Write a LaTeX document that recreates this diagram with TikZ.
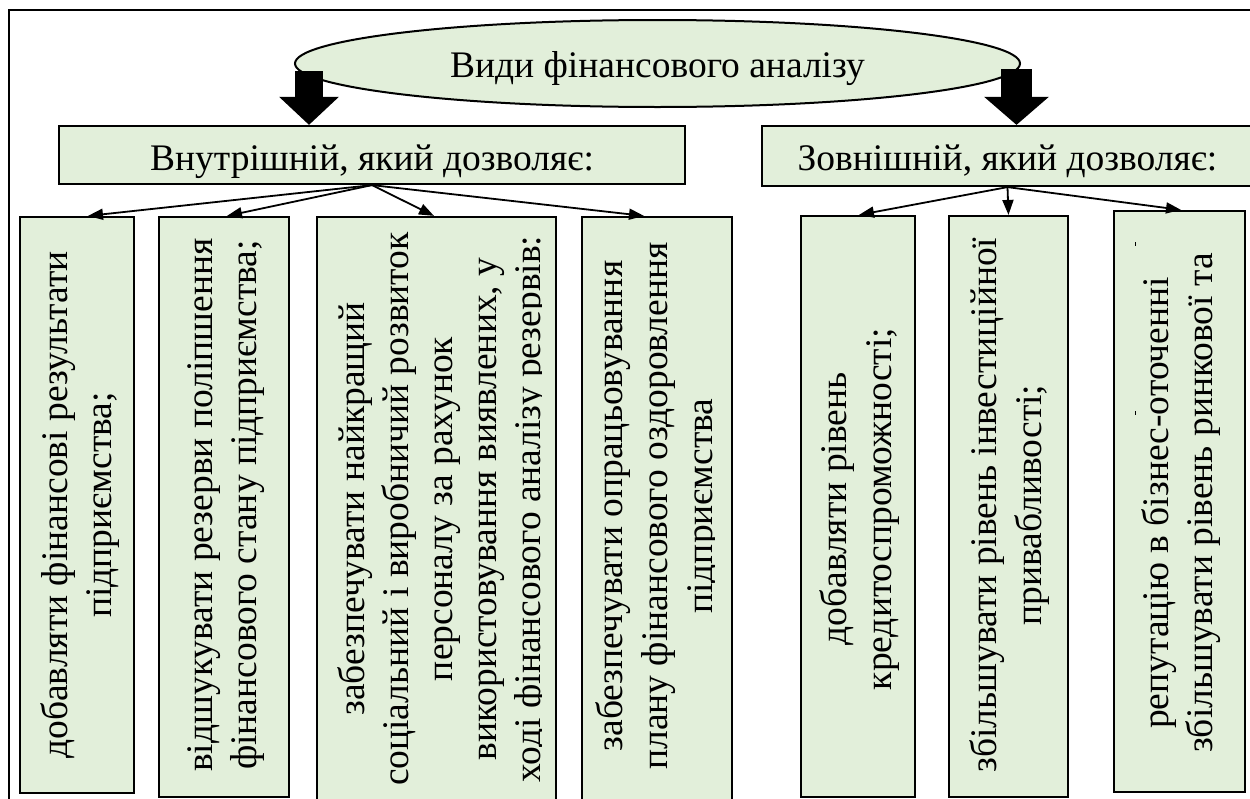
\documentclass[tikz,border=0pt]{standalone}
\usepackage{fontspec}
\setmainfont{Liberation Serif}
\usetikzlibrary{shapes.geometric,arrows.meta}
\definecolor{boxgreen}{RGB}{226,239,218}
\begin{document}
\begin{tikzpicture}[x=1pt,y=-1pt,
  txt/.style={font=\fontsize{37.5}{44.5}\selectfont},
  vbox/.style={draw=black, line width=2.2pt, fill=boxgreen, inner sep=0pt},
  hbox/.style={draw=black, line width=2.2pt, fill=boxgreen, inner sep=0pt, txt, text depth=0pt},
  vtext/.style={rotate=90, align=center, inner sep=0pt, txt},
  vline/.style={rotate=90, anchor=base, inner sep=0pt, txt},
  conn/.style={line width=1.8pt, -{Triangle[length=15pt,width=11pt]}},
  blockarrL/.style={line width=28pt, -{Triangle[length=28pt,width=58pt]}},
  blockarrR/.style={line width=31pt, -{Triangle[length=28pt,width=63pt]}}]
\clip (0,0) rectangle (1250,798);
% outer frame
\draw[line width=1.2pt] (9,900) -- (9,10) -- (1300,10);

% title ellipse
\node[ellipse, draw=black, line width=2pt, fill=boxgreen, minimum width=725pt, minimum height=87pt,
      inner sep=0pt, txt, text height=27pt, text depth=0pt] (title) at (657.5,63.5) {Види фінансового аналізу};

% header boxes
\node[hbox, minimum width=626pt, minimum height=58pt, text height=30pt] (hin) at (372,155) {Внутрішній, який дозволяє:};
\node[hbox, minimum width=491pt, minimum height=60pt, text height=28pt] (hout) at (1007.5,156) {Зовнішній, який дозволяє:};

% block arrows
\coordinate (la) at (309,71);
\coordinate (ra) at (1016.5,69);
\draw[blockarrL] (la) -- (la |- hin.north);
\draw[blockarrR] (ra) -- (ra |- hout.north);

% vertical boxes
\node[vbox, minimum width=114pt, minimum height=576pt] (b1) at (77,505) {};
\node[vbox, minimum width=130pt, minimum height=580pt] (b2) at (224,507) {};
\node[vbox, minimum width=239pt, minimum height=600pt] (b3) at (436.5,517) {};
\node[vbox, minimum width=150pt, minimum height=600pt] (b4) at (657,517) {};
\node[vbox, minimum width=114pt, minimum height=581pt] (b5) at (858,506.5) {};
\node[vbox, minimum width=119pt, minimum height=581pt] (b6) at (1008.5,506.5) {};
\node[vbox, minimum width=131pt, minimum height=581pt] (b7) at (1179.5,501.5) {};

% texts
\node[vtext] (t1) at (80,505) {добавляти фінансові результати\\підприємства;};
\node[vtext] (t2) at (226,505) {відшукувати резерви поліпшення\\фінансового стану підприємства;};
\begin{scope}
\clip (317,217) rectangle (541.5,798);
\node[vline] (t3a) at (364,509) {забезпечувати найкращий};
\node[vline] (t3b) at (408,509) {соціальний і виробничий розвиток};
\node[vline] (t3c) at (452,509) {персоналу за рахунок};
\node[vline] (t3d) at (496,509) {використовування виявлених, у};
\node[vline] (t3e) at (540,509) {ході фінансового аналізу резервів:};
\end{scope}
\begin{scope}
\clip (582,217) rectangle (714,798);
\node[vline] (t4a) at (622,506) {забезпечувати опрацьовування};
\node[vline] (t4b) at (667,506) {плану фінансового оздоровлення};
\node[vline] (t4c) at (712.5,506) {підприємства};
\end{scope}
\node[vtext] (t5) at (859.5,509) {добавляти рівень\\кредитоспроможності;};
\node[vtext] (t6) at (1009.5,505) {збільшувати рівень інвестиційної\\привабливості;};
\node[vtext] (t7) at (1181,503) {репутацію в бізнес-оточенні\\збільшувати рівень ринкової та};
\draw[line width=0.8pt] (1135,242) -- (1135,246);
\draw[line width=0.8pt] (1135,411) -- (1135,415);

% connectors
\draw[conn] (hin.south) -- ([xshift=11pt]b1.north);
\draw[conn] (hin.south) -- ([xshift=3pt]b2.north);
\draw[conn] (hin.south) -- ([xshift=-2.5pt]b3.north);
\draw[conn] (hin.south) -- ([xshift=-13pt]b4.north);
\draw[conn] (hout.south) -- ([xshift=1pt]b5.north);
\draw[conn] (hout.south) -- (b6.north);
\draw[conn] (hout.south) -- ([xshift=1.5pt]b7.north);
\end{tikzpicture}
\end{document}
